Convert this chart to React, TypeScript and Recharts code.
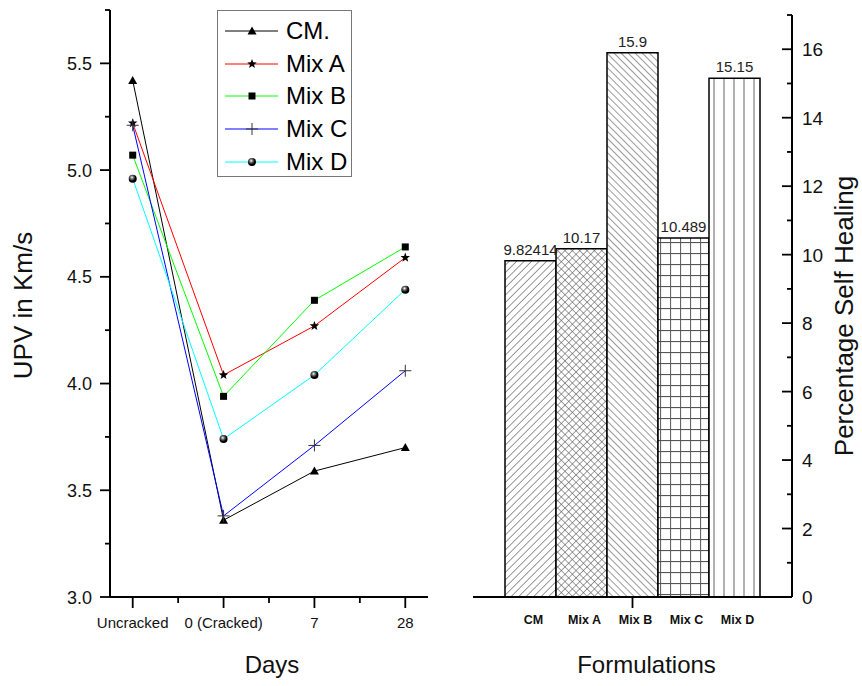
import React from "react";
import {
  LineChart,
  Line,
  XAxis,
  YAxis,
  Legend,
  Label,
  BarChart,
  Bar,
  Cell,
  LabelList,
} from "recharts";

// left panel: UPV over time
const days = ["Uncracked", "0 (Cracked)", "7", "28"];
const cmUpv = [5.42, 3.36, 3.59, 3.7];
const mixAUpv = [5.22, 4.04, 4.27, 4.59];
const mixBUpv = [5.07, 3.94, 4.39, 4.64];
const mixCUpv = [5.21, 3.38, 3.71, 4.06];
const mixDUpv = [4.96, 3.74, 4.04, 4.44];
const upvTicks = [3, 3.25, 3.5, 3.75, 4, 4.25, 4.5, 4.75, 5, 5.25, 5.5, 5.75];
const dayTicks = [0, 0.5, 1, 1.5, 2, 2.5, 3];

// right panel: self healing
const formulations = ["CM", "Mix A", "Mix B", "Mix C", "Mix D"];
const healing = [9.82414, 10.17, 15.9, 10.489, 15.15];
const healTicks = [0, 1, 2, 3, 4, 5, 6, 7, 8, 9, 10, 11, 12, 13, 14, 15, 16, 17];

const series = [
  { key: "cm", name: "CM.", color: "#000000", marker: "triangle", values: cmUpv },
  { key: "mixA", name: "Mix A", color: "#ff0000", marker: "star", values: mixAUpv },
  { key: "mixB", name: "Mix B", color: "#00ff00", marker: "square", values: mixBUpv },
  { key: "mixC", name: "Mix C", color: "#0000ff", marker: "plus", values: mixCUpv },
  { key: "mixD", name: "Mix D", color: "#00ffff", marker: "ball", values: mixDUpv },
];

const upvData = days.map((d, i) => {
  const row: any = { x: i, day: d };
  series.forEach((s) => (row[s.key] = s.values[i]));
  return row;
});

const patIds = ["pat-cm", "pat-a", "pat-b", "pat-c", "pat-d"];
const healData = formulations.map((f, i) => ({ name: f, value: healing[i] }));

const FONT = '"Liberation Sans", Arial, sans-serif';

const starPoints = (cx: number, cy: number, r: number) => {
  const pts: string[] = [];
  for (let i = 0; i < 10; i++) {
    const rad = i % 2 === 0 ? r : r * 0.42;
    const a = -Math.PI / 2 + (i * Math.PI) / 5;
    pts.push(`${cx + rad * Math.cos(a)},${cy + rad * Math.sin(a)}`);
  }
  return pts.join(" ");
};

const Marker = ({ kind, cx, cy }: { kind: string; cx: number; cy: number }) => {
  switch (kind) {
    case "triangle":
      return (
        <polygon
          points={`${cx},${cy - 4.5} ${cx - 4.5},${cy + 3.5} ${cx + 4.5},${cy + 3.5}`}
          fill="#000"
        />
      );
    case "star":
      return <polygon points={starPoints(cx, cy, 5)} fill="#000" />;
    case "square":
      return <rect x={cx - 3.5} y={cy - 3.5} width={7} height={7} fill="#000" />;
    case "plus":
      return (
        <g stroke="#333" strokeWidth={1}>
          <line x1={cx - 6} x2={cx + 6} y1={cy} y2={cy} />
          <line x1={cx} x2={cx} y1={cy - 6} y2={cy + 6} />
        </g>
      );
    default:
      return <circle cx={cx} cy={cy} r={4} fill="url(#ball)" />;
  }
};

const UpvLegend = () => (
  <div
    style={{
      border: "1px solid #777",
      background: "#fff",
      width: 135,
      height: 167,
      boxSizing: "border-box",
      paddingTop: 4,
      fontFamily: FONT,
    }}
  >
    {series.map((s) => (
      <div key={s.key} style={{ display: "flex", alignItems: "center", height: 32.6 }}>
        <svg width={68} height={20} style={{ flex: "none" }}>
          <line x1={7} x2={60} y1={10} y2={10} stroke={s.color} strokeWidth={1} />
          <Marker kind={s.marker} cx={34} cy={10} />
        </svg>
        <span style={{ fontSize: 24, lineHeight: "24px", color: "#000" }}>{s.name}</span>
      </div>
    ))}
  </div>
);

const UpvYTick = (p: any) => {
  const v = p.payload.value;
  const major = Math.abs(v * 2 - Math.round(v * 2)) < 1e-6;
  return (
    <g>
      <line x1={p.x - (major ? 10 : 5)} x2={p.x} y1={p.y} y2={p.y} stroke="#000" strokeWidth={1.8} />
      {major && (
        <text x={p.x - 18} y={p.y} dy={6.5} textAnchor="end" fontSize={18} fill="#111">
          {v.toFixed(1)}
        </text>
      )}
    </g>
  );
};

const DayTick = (p: any) => {
  const v = p.payload.value;
  const major = Number.isInteger(v);
  return (
    <g>
      <line x1={p.x} x2={p.x} y1={p.y} y2={p.y + (major ? 11 : 6)} stroke="#000" strokeWidth={1.8} />
      {major && (
        <text x={p.x} y={p.y + 31} textAnchor="middle" fontSize={15} fill="#111">
          {days[v]}
        </text>
      )}
    </g>
  );
};

const HealYTick = (p: any) => {
  const v = p.payload.value;
  const major = v % 2 === 0;
  return (
    <g>
      <line x1={p.x - (major ? 10 : 5)} x2={p.x} y1={p.y} y2={p.y} stroke="#000" strokeWidth={1.8} />
      {major && (
        <text x={p.x + 10} y={p.y} dy={7} textAnchor="start" fontSize={19} fill="#111">
          {v}
        </text>
      )}
    </g>
  );
};

const FormTick = (p: any) => (
  <g>
    {p.index === 2 && (
      <line x1={p.x} x2={p.x} y1={p.y} y2={p.y + 11} stroke="#000" strokeWidth={1.8} />
    )}
    <text x={p.x + 3} y={p.y + 27} textAnchor="middle" fontSize={12.5} fontWeight="bold" fill="#111">
      {p.payload.value}
    </text>
  </g>
);

const axisLine = { stroke: "#000", strokeWidth: 2 };

export default function App() {
  return (
    <div
      style={{
        position: "absolute",
        left: 0,
        top: 0,
        width: 862,
        height: 686,
        background: "#fff",
        fontFamily: FONT,
      }}
    >
      <div style={{ position: "absolute", left: 0, top: 0 }}>
        <LineChart width={440} height={686} data={upvData} margin={{ top: 10, right: 12, bottom: 29, left: 0 }}>
          <defs>
            <radialGradient id="ball" cx="40%" cy="35%" r="65%">
              <stop offset="0%" stopColor="#ffffff" />
              <stop offset="30%" stopColor="#777777" />
              <stop offset="70%" stopColor="#000000" />
            </radialGradient>
          </defs>
          <XAxis
            dataKey="x"
            type="number"
            domain={[-0.25, 3.25]}
            ticks={dayTicks}
            height={60}
            tickSize={0}
            tickMargin={0}
            tickLine={false}
            axisLine={axisLine}
            tick={<DayTick />}
            interval={0}
          >
            <Label
              content={(props: any) => {
                const vb = props.viewBox;
                return (
                  <text x={vb.x + vb.width / 2 + 3} y={vb.y + 76} textAnchor="middle" fontSize={24} fill="#111">
                    Days
                  </text>
                );
              }}
            />
          </XAxis>
          <YAxis
            domain={[3, 5.75]}
            ticks={upvTicks}
            width={110}
            tickSize={0}
            tickMargin={0}
            tickLine={false}
            axisLine={axisLine}
            tick={<UpvYTick />}
            interval={0}
            allowDataOverflow
          >
            <Label
              content={(props: any) => {
                const vb = props.viewBox;
                const x = vb.x + 32;
                const y = vb.y + vb.height / 2 + 2;
                return (
                  <text x={x} y={y} transform={`rotate(-90, ${x}, ${y})`} textAnchor="middle" fontSize={26} fill="#111">
                    UPV in Km/s
                  </text>
                );
              }}
            />
          </YAxis>
          {series.map((s) => (
            <Line
              key={s.key}
              type="linear"
              dataKey={s.key}
              name={s.name}
              stroke={s.color}
              strokeWidth={1}
              isAnimationActive={false}
              activeDot={false}
              dot={(p: any) => <Marker key={`${s.key}-${p.index}`} kind={s.marker} cx={p.cx} cy={p.cy} />}
            />
          ))}
          <Legend
            layout="vertical"
            align="center"
            verticalAlign="middle"
            wrapperStyle={{ left: 217, top: 10, width: 135, height: 167 }}
            content={() => <UpvLegend />}
          />
        </LineChart>
      </div>

      <div style={{ position: "absolute", left: 440, top: 0 }}>
        <BarChart
          width={422}
          height={686}
          data={healData}
          margin={{ top: 15, right: 0, bottom: 29, left: 33 }}
          barCategoryGap={0}
          barGap={0}
        >
          <defs>
            <pattern id="pat-cm" patternUnits="userSpaceOnUse" width={5.3} height={5.3} patternTransform="rotate(45)">
              <rect width={5.3} height={5.3} fill="#fff" />
              <line x1={0} y1={0} x2={0} y2={5.3} stroke="#555" strokeWidth={1.2} />
            </pattern>
            <pattern id="pat-a" patternUnits="userSpaceOnUse" width={5.2} height={5.2} patternTransform="rotate(45)">
              <rect width={5.2} height={5.2} fill="#fff" />
              <line x1={0} y1={0} x2={0} y2={5.2} stroke="#555" strokeWidth={1.1} />
              <line x1={0} y1={0} x2={5.2} y2={0} stroke="#555" strokeWidth={1.1} />
            </pattern>
            <pattern id="pat-b" patternUnits="userSpaceOnUse" width={5} height={5} patternTransform="rotate(-45)">
              <rect width={5} height={5} fill="#fff" />
              <line x1={0} y1={0} x2={0} y2={5} stroke="#555" strokeWidth={1.2} />
            </pattern>
            <pattern id="pat-c" patternUnits="userSpaceOnUse" width={10} height={11}>
              <rect width={10} height={11} fill="#fff" />
              <line x1={0.5} y1={0} x2={0.5} y2={11} stroke="#666" strokeWidth={1.2} />
              <line x1={0} y1={0.5} x2={10} y2={0.5} stroke="#555" strokeWidth={1.2} />
            </pattern>
            <pattern id="pat-d" patternUnits="userSpaceOnUse" width={10} height={10}>
              <rect width={10} height={10} fill="#fff" />
              <line x1={4} y1={0} x2={4} y2={10} stroke="#999" strokeWidth={1.5} />
            </pattern>
          </defs>
          <XAxis
            dataKey="name"
            type="category"
            padding={{ left: 32, right: 32 }}
            height={60}
            tickSize={0}
            tickMargin={0}
            tickLine={false}
            axisLine={axisLine}
            tick={<FormTick />}
            interval={0}
          >
            <Label
              content={(props: any) => {
                const vb = props.viewBox;
                return (
                  <text x={vb.x + vb.width / 2 + 14} y={vb.y + 76} textAnchor="middle" fontSize={24} fill="#111">
                    Formulations
                  </text>
                );
              }}
            />
          </XAxis>
          <YAxis
            orientation="right"
            domain={[0, 17]}
            ticks={healTicks}
            width={70}
            tickSize={0}
            tickMargin={0}
            tickLine={false}
            axisLine={axisLine}
            tick={<HealYTick />}
            interval={0}
          >
            <Label
              content={(props: any) => {
                const vb = props.viewBox;
                const x = vb.x + 61;
                const y = vb.y + vb.height / 2 + 10;
                return (
                  <text x={x} y={y} transform={`rotate(-90, ${x}, ${y})`} textAnchor="middle" fontSize={26} fill="#111">
                    Percentage Self Healing
                  </text>
                );
              }}
            />
          </YAxis>
          <Bar dataKey="value" stroke="#000" strokeWidth={1.5} isAnimationActive={false}>
            {healData.map((d, i) => (
              <Cell key={d.name} fill={`url(#${patIds[i]})`} />
            ))}
            <LabelList dataKey="value" position="top" offset={6} fontSize={15} fill="#222" />
          </Bar>
        </BarChart>
      </div>
    </div>
  );
}
